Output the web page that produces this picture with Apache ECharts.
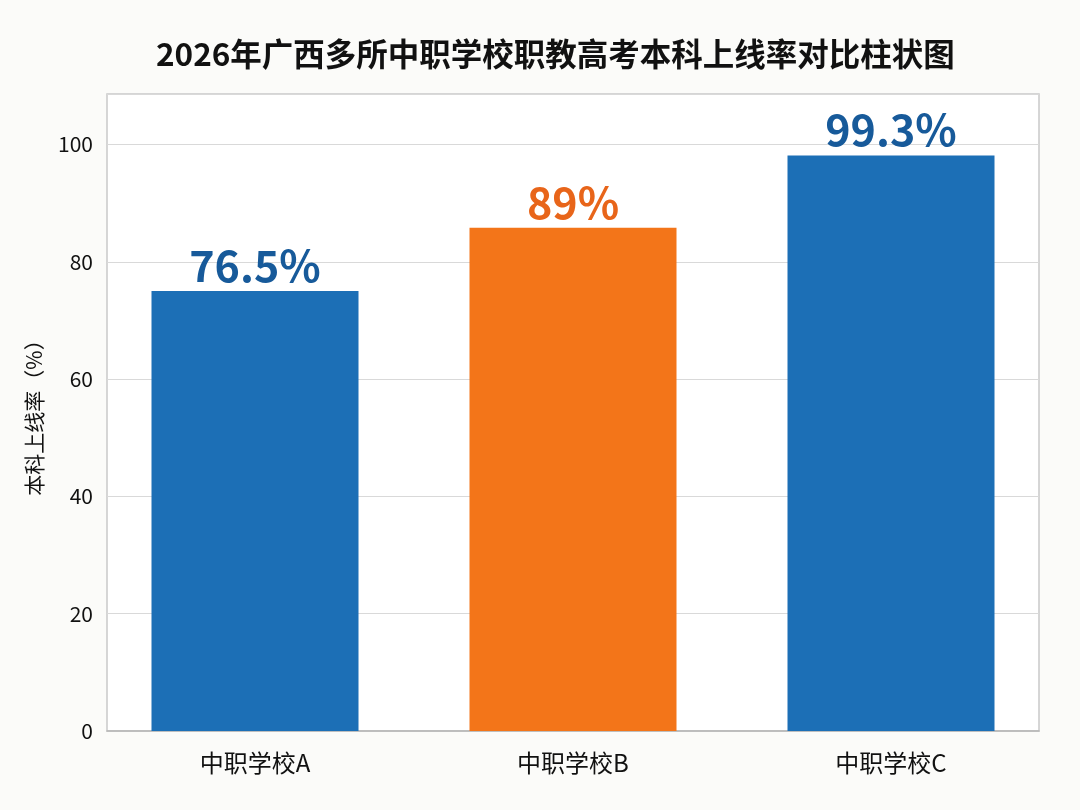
<!DOCTYPE html>
<html>
<head>
<meta charset="utf-8">
<title>2026年广西多所中职学校职教高考本科上线率对比柱状图</title>
<script src="https://cdn.jsdelivr.net/npm/echarts@6/dist/echarts.min.js"></script>
<style>
  html, body { margin: 0; padding: 0; background: #fbfbf9; }
  #main { width: 1080px; height: 810px; }
</style>
</head>
<body>
<div id="main"></div>
<script>
// data
var schools = ['中职学校A', '中职学校B', '中职学校C'];
var barHeights = [75.0, 85.8, 98.1];          // drawn bar tops
var rateLabels = ['76.5%', '89%', '99.3%'];   // printed labels above bars
var barColors = ['#1c6fb6', '#f37519', '#1c6fb6'];
var labelColors = ['#175a9a', '#e8651a', '#175a9a'];
var yMax = 108.6;
var yStep = 20;

var myChart = echarts.init(document.getElementById('main'));

var option = {
    backgroundColor: '#fbfbf9',
    textStyle: { fontFamily: '"Noto Sans CJK SC", "Noto Sans", sans-serif' },
    title: {
        text: '2026年广西多所中职学校职教高考本科上线率对比柱状图',
        left: 151,
        top: 33,
        textStyle: { fontSize: 31.5, fontWeight: 'bold', color: '#111' }
    },
    // grid 0: the framed plot area with the y axis; grid 1: the bars, set a bit wider
    grid: [
        {
            left: 107, right: 41, top: 94, bottom: 79,
            show: true,
            backgroundColor: '#ffffff',
            borderColor: '#c9c9c9',
            borderWidth: 1.5
        },
        { left: 96, right: 30, top: 94, bottom: 79 }
    ],
    xAxis: [
        {
            type: 'category',
            gridIndex: 0,
            data: schools,
            axisLine: { lineStyle: { color: '#b5b5b5', width: 1.5 } },
            axisTick: { show: false },
            axisLabel: { show: false }
        },
        {
            type: 'category',
            gridIndex: 1,
            data: schools,
            axisLine: { show: false },
            axisTick: { show: false },
            axisLabel: { fontSize: 24, color: '#111', margin: 20 }
        }
    ],
    yAxis: [
        {
            type: 'value',
            gridIndex: 0,
            min: 0,
            max: yMax,
            interval: yStep,
            name: '本科上线率（%）',
            nameLocation: 'middle',
            nameGap: 62,
            nameTextStyle: { fontSize: 21, color: '#111' },
            axisLine: { show: false },
            axisTick: { show: false },
            axisLabel: {
                fontSize: 21,
                color: '#111',
                margin: 14,
                formatter: function (v) { return v % yStep === 0 ? v : ''; }
            },
            splitLine: { lineStyle: { color: '#d9d9d9', width: 1.2 } }
        },
        {
            type: 'value',
            gridIndex: 1,
            min: 0,
            max: yMax,
            interval: yStep,
            show: false,
            splitLine: { show: false }
        }
    ],
    series: [
        {
            type: 'bar',
            xAxisIndex: 1,
            yAxisIndex: 1,
            barWidth: 207,
            data: barHeights.map(function (v, i) {
                return {
                    value: v,
                    itemStyle: { color: barColors[i] },
                    label: { color: labelColors[i] }
                };
            }),
            label: {
                show: true,
                position: 'top',
                distance: 4,
                fontSize: 43,
                fontWeight: 'bold',
                formatter: function (p) { return rateLabels[p.dataIndex]; }
            }
        }
    ]
};

myChart.setOption(option);
</script>
</body>
</html>
